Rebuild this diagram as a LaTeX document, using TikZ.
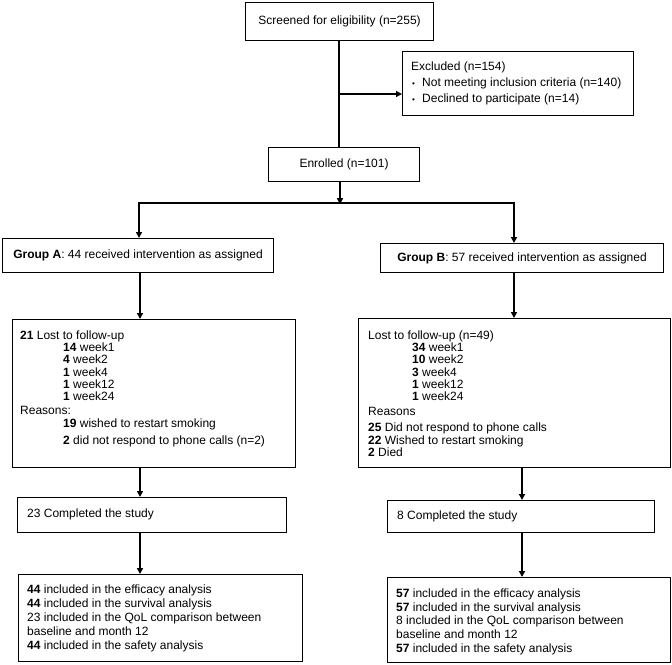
\documentclass[tikz,border=0pt]{standalone}
\usepackage{fontspec}
\setmainfont{Liberation Sans}
\usetikzlibrary{arrows.meta}
\begin{document}
\begin{tikzpicture}[x=1pt,y=-1pt,
  box/.style={draw, line width=1.1pt, anchor=north west, inner sep=0pt},
  txt/.style={anchor=north west, inner sep=0pt, align=left, font=\fontsize{12}{12.2}\selectfont},
  ctr/.style={font=\fontsize{12}{14}\selectfont},
  tip/.style={-{Triangle[length=6pt,width=6pt]}},
  arr/.style={tip, line width=1.5pt},
  thk/.style={line width=2.5pt},
  med/.style={line width=2pt}]
\useasboundingbox (0,0) rectangle (672,664);
\newcommand{\bul}{\makebox[11pt][l]{\hspace{1pt}\fontsize{8}{8}\selectfont\textbullet}}
% boxes
\node[box, ctr, minimum width=188pt, minimum height=38pt] (scr) at (245,2) {Screened for eligibility (n=255)};
\node[box, minimum width=231pt, minimum height=64pt] (exc) at (402,51) {};
\node[txt, font=\fontsize{12}{16}\selectfont] (exct) at (411,62) {Excluded (n=154)\\ \bul Not meeting inclusion criteria (n=140)\\ \bul Declined to participate (n=14)};
\node[box, ctr, minimum width=151pt, minimum height=34pt] (enr) at (268,147) {Enrolled (n=101)};
\node[box, ctr, minimum width=271pt, minimum height=34pt] (grpA) at (2,238) {\textbf{Group A}: 44 received intervention as assigned};
\node[box, ctr, minimum width=283pt, minimum height=29pt] (grpB) at (380,243) {\textbf{Group B}: 57 received intervention as assigned};
\node[box, minimum width=283pt, minimum height=148pt] (lostA) at (12,319) {};
\node[txt] (lostAt) at (20,330.5) {\textbf{21} Lost to follow-up\\
\hspace*{43pt}\textbf{14} week1\\
\hspace*{43pt}\textbf{4} week2\\
\hspace*{43pt}\textbf{1} week4\\
\hspace*{43pt}\textbf{1} week12\\
\hspace*{43pt}\textbf{1} week24\\[2.3pt]
Reasons:\\[0.5pt]
\hspace*{43pt}\textbf{19} wished to restart smoking\\[4.5pt]
\hspace*{43pt}\textbf{2} did not respond to phone calls (n=2)};
\node[box, minimum width=312pt, minimum height=149pt] (lostB) at (358,318) {};
\node[txt] (lostBt) at (368,330.5) {Lost to follow-up (n=49)\\
\hspace*{44pt}\textbf{34} week1\\
\hspace*{44pt}\textbf{10} week2\\
\hspace*{44pt}\textbf{3} week4\\
\hspace*{44pt}\textbf{1} week12\\
\hspace*{44pt}\textbf{1} week24\\[2.8pt]
Reasons\\[3.8pt]
\textbf{25} Did not respond to phone calls\\[0.8pt]
\textbf{22} Wished to restart smoking\\
\textbf{2} Died};
\node[box, minimum width=269pt, minimum height=35pt] (compA) at (17,497) {};
\node[ctr, anchor=west, inner sep=0pt] (compAt) at (27,514.5) {23 Completed the study};
\node[box, minimum width=267pt, minimum height=32pt] (compB) at (387,500) {};
\node[ctr, anchor=west, inner sep=0pt] (compBt) at (397,516) {8 Completed the study};
\node[box, minimum width=284pt, minimum height=87pt] (finA) at (18,574) {};
\node[txt, font=\fontsize{12}{14}\selectfont] (finAt) at (27,584.5) {\textbf{44} included in the efficacy analysis\\
\textbf{44} included in the survival analysis\\
23 included in the QoL comparison between\\
baseline and month 12\\
\textbf{44} included in the safety analysis};
\node[box, minimum width=283pt, minimum height=85pt] (finB) at (387,577) {};
\node[txt, font=\fontsize{12}{13.7}\selectfont] (finBt) at (396,588.5) {\textbf{57} included in the efficacy analysis\\
\textbf{57} included in the survival analysis\\
8 included in the QoL comparison between\\
baseline and month 12\\
\textbf{57} included in the safety analysis};
% helper coordinates
\coordinate (exj) at (339,94);
\coordinate (jn) at (340,203);
\coordinate (bl) at (139,203);
\coordinate (br) at (514,203);
\coordinate (colA) at (140,0);
\coordinate (colB) at (522,0);
% connectors
\draw[med] (scr.south -| exj) -- (enr.north -| exj);
\draw[tip, line width=1.2pt] (exj) -- (exj -| exc.west);
\draw[arr] (enr.south -| jn) -- ([yshift=-1.2pt]jn);
\draw[thk, {Triangle[length=6pt,width=6pt]}-{Triangle[length=6pt,width=6pt]}] (bl |- grpA.north) -- (bl) -- (br) -- (br |- grpB.north);
\draw[thk, tip] (grpA.south -| colA) -- (lostA.north -| colA);
\draw[arr] (grpB.south -| br) -- (lostB.north -| br);
\draw[med, tip] (lostA.south -| colA) -- (compA.north -| colA);
\draw[med, tip] (compA.south -| colA) -- (finA.north -| colA);
\draw[med, tip] (lostB.south -| colB) -- (compB.north -| colB);
\draw[med, tip] (compB.south -| colB) -- (finB.north -| colB);
\end{tikzpicture}
\end{document}
